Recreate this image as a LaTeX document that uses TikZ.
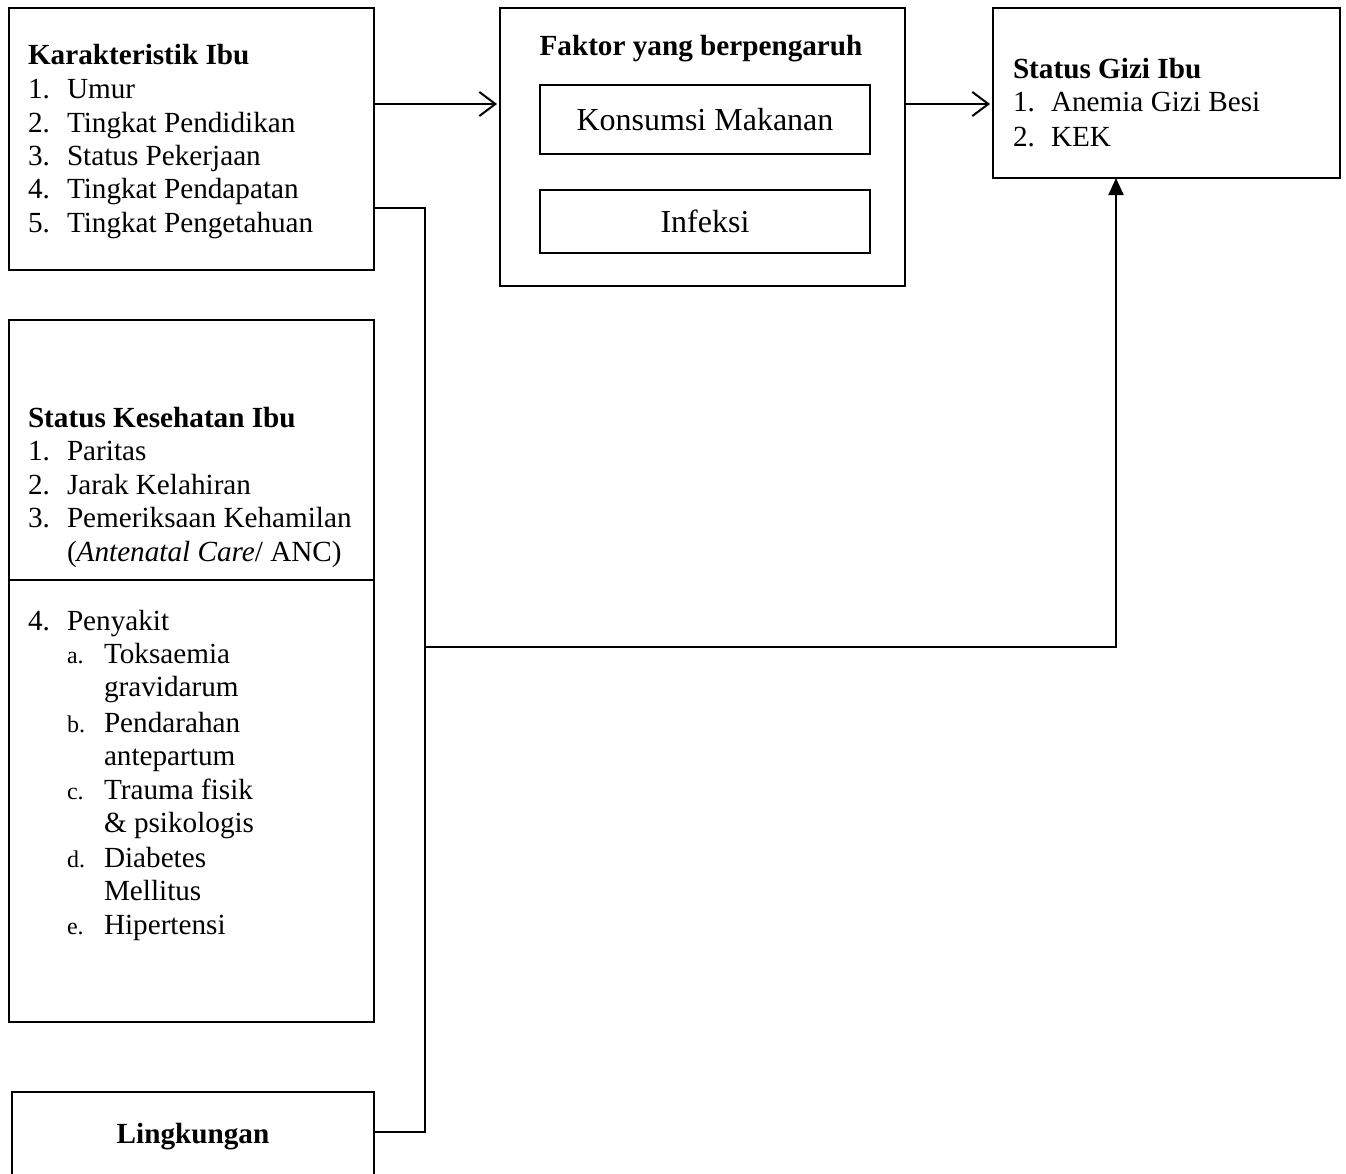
\documentclass[tikz,border=0pt]{standalone}
\usepackage{fontspec}
\setmainfont{Liberation Serif}
\usetikzlibrary{arrows.meta}
\begin{document}
\begin{tikzpicture}[x=1pt,y=-1pt,
  every node/.style={inner sep=0pt,outer sep=0pt,font=\fontsize{29.2}{33.5}\selectfont},
  box/.style={draw,line width=1.3pt,rectangle},
  big/.style={font=\fontsize{32}{36}\selectfont},
  bold/.style={font=\fontsize{29.2}{33.5}\selectfont\bfseries},
  txt/.style={anchor=base west},
  sub/.style={anchor=base west,font=\fontsize{24}{27}\selectfont},
  conn/.style={line width=2pt},
  openarr/.style={conn,-{Straight Barb[length=16pt,width=24pt,line width=2pt]}},
  fillarr/.style={conn,-{Triangle[length=17pt,width=15pt]}}]
\clip (0,0) rectangle (1346,1173);
\useasboundingbox (0,0) rectangle (1346,1173);

% boxes
\node[box,minimum width=365pt,minimum height=262pt] (kar) at (191.5,139) {};
\node[box,minimum width=405pt,minimum height=278pt] (fak) at (702.5,147) {};
\node[box,big,minimum width=330pt,minimum height=69pt] (kon) at (705,119.5) {Konsumsi Makanan};
\node[box,big,minimum width=330pt,minimum height=63pt] (inf) at (705,221.5) {Infeksi};
\node[box,minimum width=347pt,minimum height=170pt] (gizi) at (1166.5,93) {};
\node[box,minimum width=365pt,minimum height=702pt] (kes) at (191.5,671) {};
\node[box,minimum width=362pt,minimum height=96pt] (ling) at (193,1140) {};
\node[bold] (lingt) at (193,1137) {Lingkungan};
\draw[line width=1.3pt] (kes.west |- 0,580) -- (kes.east |- 0,580);

% Karakteristik Ibu
\node[txt,bold] (karT) at (28,64) {Karakteristik Ibu};
\foreach \n/\t/\y in {1/Umur/98, 2/Tingkat Pendidikan/132, 3/Status Pekerjaan/165,
                      4/Tingkat Pendapatan/198, 5/Tingkat Pengetahuan/232}{
  \node[txt] (karN\n) at (28,\y) {\n.};
  \node[txt] (karI\n) at (67,\y) {\t};
}

% Faktor yang berpengaruh
\node[anchor=base,bold] (fakT) at (701,55) {Faktor yang berpengaruh};

% Status Gizi Ibu
\node[txt,bold] (giziT) at (1013,78) {Status Gizi Ibu};
\node[txt] (giziN1) at (1013,111) {1.};
\node[txt] (giziI1) at (1051,111) {Anemia Gizi Besi};
\node[txt] (giziN2) at (1013,146) {2.};
\node[txt] (giziI2) at (1051,146) {KEK};

% Status Kesehatan Ibu
\node[txt,bold] (kesT) at (28,427) {Status Kesehatan Ibu};
\foreach \n/\t/\y in {1/Paritas/460, 2/Jarak Kelahiran/494, 3/Pemeriksaan Kehamilan/527}{
  \node[txt] (kesN\n) at (28,\y) {\n.};
  \node[txt] (kesI\n) at (67,\y) {\t};
}
\node[txt] (kesI3b) at (67,561) {(\textit{Antenatal Care}/ ANC)};
\node[txt] (kesN4) at (28,630) {4.};
\node[txt] (kesI4) at (67,630) {Penyakit};
\foreach \l/\a/\b/\y in {a/Toksaemia/gravidarum/663, b/Pendarahan/antepartum/732,
                         c/Trauma fisik/\& psikologis/799, d/Diabetes/Mellitus/867}{
  \node[sub] (penL\l) at (67,\y) {\l.};
  \node[txt] (penA\l) at (104,\y) {\a};
  \node[txt] (penB\l) at (104,\y+33.6) {\b};
}
\node[sub] (penLe) at (67,934) {e.};
\node[txt] (penAe) at (104,934) {Hipertensi};

% connectors
\coordinate (bus1) at (425,208);
\coordinate (bus2) at (425,1132);
\coordinate (bus3) at (425,647);
\coordinate (up) at (1116,647);
\draw[openarr] (kar.east |- 0,104) -- ([xshift=-3pt]fak.west |- 0,104);
\draw[openarr] (fak.east |- 0,104) -- ([xshift=-3pt]gizi.west |- 0,104);
\draw[conn] (kar.east |- bus1) -- (bus1) -- (bus2) -- (ling.east |- bus2);
\draw[fillarr] (bus3) -- (up) -- (gizi.south -| up);
\end{tikzpicture}
\end{document}
